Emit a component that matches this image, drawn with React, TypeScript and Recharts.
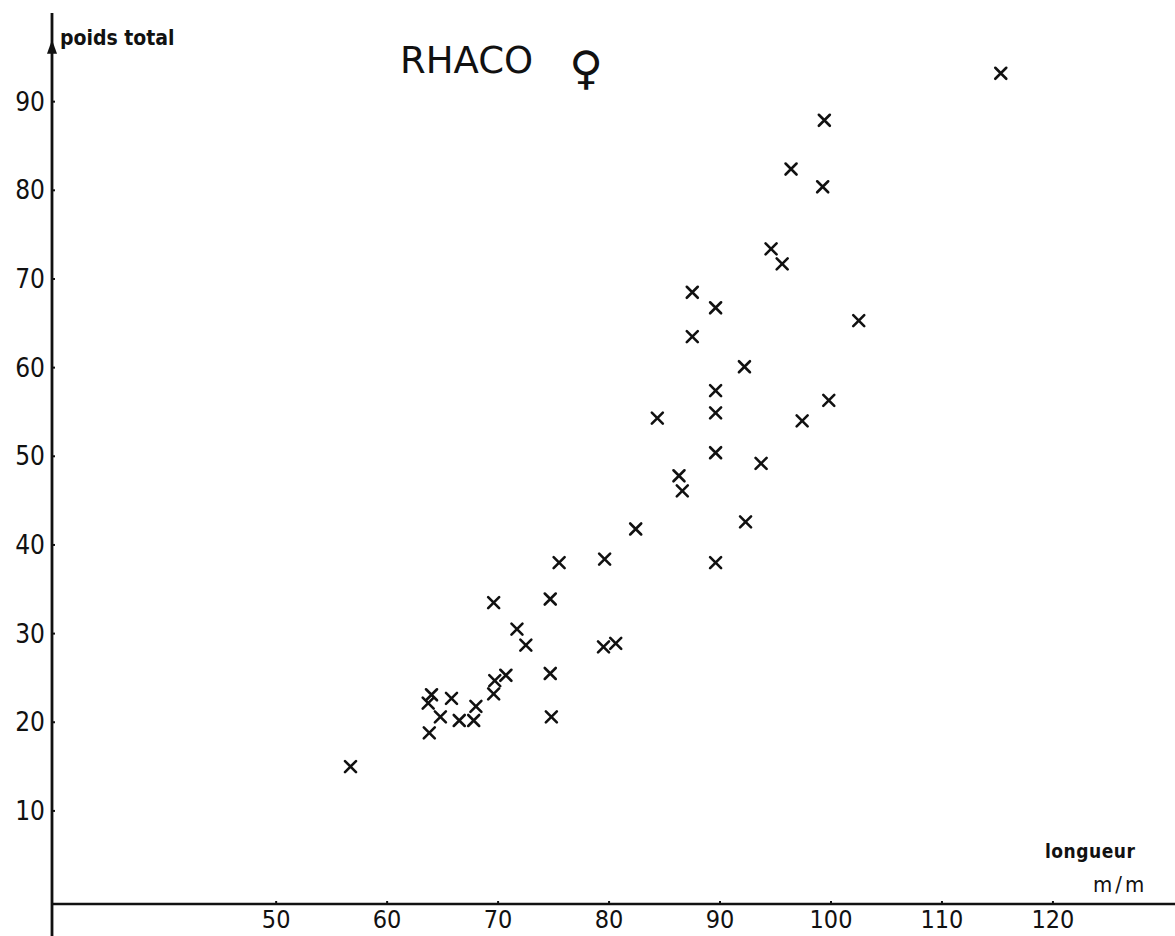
import React from 'react'
import { ScatterChart, Scatter, XAxis, YAxis, ReferenceLine, ReferenceDot, Customized } from 'recharts'

// longueur (m/m) / poids total
const longueur = [
  56.7, 64.0, 63.7, 65.8, 64.8, 66.5, 67.8, 68.0, 63.8, 69.7, 70.7, 69.6, 74.7, 74.8,
  82.4, 75.5, 79.6, 69.6, 74.7, 71.7, 72.5, 79.5, 80.6,
  92.3, 89.6,
  99.4, 96.4, 99.25, 94.6, 95.6,
  115.3,
  87.5, 89.6, 102.5, 87.5, 92.2, 89.6, 99.8, 89.6, 84.35, 97.4, 89.6, 93.7, 86.3, 86.6,
]
const poids = [
  15.0, 23.1, 22.15, 22.7, 20.6, 20.2, 20.2, 21.8, 18.8, 24.7, 25.3, 23.2, 25.5, 20.6,
  41.8, 38.0, 38.4, 33.5, 33.9, 30.5, 28.7, 28.5, 28.9,
  42.6, 38.0,
  87.9, 82.4, 80.4, 73.4, 71.7,
  93.2,
  68.5, 66.75, 65.3, 63.5, 60.1, 57.4, 56.3, 54.9, 54.3, 54.0, 50.4, 49.2, 47.8, 46.1,
]
const xTicks = [50, 60, 70, 80, 90, 100, 110, 120]
const yTicks = [10, 20, 30, 40, 50, 60, 70, 80, 90]

const points = longueur.map((x, i) => ({ x, y: poids[i] }))

const FONT = "'DejaVu Sans Condensed', 'DejaVu Sans', sans-serif"
const INK = '#111'

const Cross = (props: any) => {
  const { cx, cy } = props
  const s = 5.5
  return (
    <path
      d={`M${cx - s},${cy - s}L${cx + s},${cy + s}M${cx - s},${cy + s}L${cx + s},${cy - s}`}
      stroke={INK}
      strokeWidth={2.6}
      strokeLinecap="round"
      fill="none"
    />
  )
}

const YTick = (props: any) => {
  const { x, y, payload } = props
  return (
    <g>
      <text x={x} y={y} dy={9} textAnchor="end" fontFamily={FONT} fontSize={26} fill={INK}>
        {payload.value}
      </text>
      <line x1={x + 7} x2={x + 10} y1={y} y2={y} stroke={INK} strokeWidth={2} />
    </g>
  )
}

const XTick = (props: any) => {
  const { x, y, payload } = props
  return (
    <g>
      <text x={x} y={y} dy={16} textAnchor="middle" fontFamily={FONT} fontSize={25} fill={INK}>
        {payload.value}
      </text>
      <line x1={x} x2={x} y1={y - 8} y2={y - 11} stroke={INK} strokeWidth={2} />
    </g>
  )
}

const Arrow = (props: any) => {
  const { cx, cy } = props
  return <path d={`M${cx},${cy - 7}L${cx + 5},${cy + 7}L${cx - 5},${cy + 7}Z`} fill={INK} />
}

const Labels = () => (
  <g fill={INK}>
    <text x={60} y={45} fontFamily={FONT} fontWeight="bold" fontSize={21}>
      poids total
    </text>
    <text x={400} y={73} fontFamily="'DejaVu Sans', sans-serif" fontSize={37}>
      RHACO
    </text>
    <text x={586} y={84} textAnchor="middle" fontFamily="'DejaVu Sans', sans-serif" fontSize={46}>
      ♀
    </text>
    <text x={1045} y={858} fontFamily={FONT} fontWeight="bold" fontSize={19} letterSpacing={0.5}>
      longueur
    </text>
    <text x={1093} y={892} fontFamily={FONT} fontSize={22} letterSpacing={3}>
      m/m
    </text>
  </g>
)

export default function App() {
  return (
    <div style={{ position: 'absolute', left: 0, top: 0, background: '#fff' }}>
      <ScatterChart width={1175} height={936} margin={{ top: 13, right: 0, bottom: 0, left: 0 }}>
        <XAxis
          type="number"
          dataKey="x"
          domain={[29.8, 131]}
          ticks={xTicks}
          allowDataOverflow
          height={32}
          tickSize={0}
          tickMargin={8}
          tickLine={false}
          tick={<XTick />}
          axisLine={{ stroke: INK, strokeWidth: 2.5 }}
        />
        <YAxis
          type="number"
          dataKey="y"
          domain={[-0.5, 100]}
          ticks={yTicks}
          allowDataOverflow
          width={52}
          tickSize={0}
          tickMargin={7}
          tickLine={false}
          tick={<YTick />}
          axisLine={{ stroke: INK, strokeWidth: 2.8 }}
        />
        <ReferenceLine
          segment={[{ x: 29.8, y: -0.5 }, { x: 29.8, y: -4.2 }]}
          stroke={INK}
          strokeWidth={2.8}
          ifOverflow="visible"
        />
        <ReferenceDot x={29.8} y={96.2} ifOverflow="visible" shape={<Arrow />} />
        <Scatter data={points} shape={<Cross />} isAnimationActive={false} />
        <Customized component={Labels} />
      </ScatterChart>
    </div>
  )
}
